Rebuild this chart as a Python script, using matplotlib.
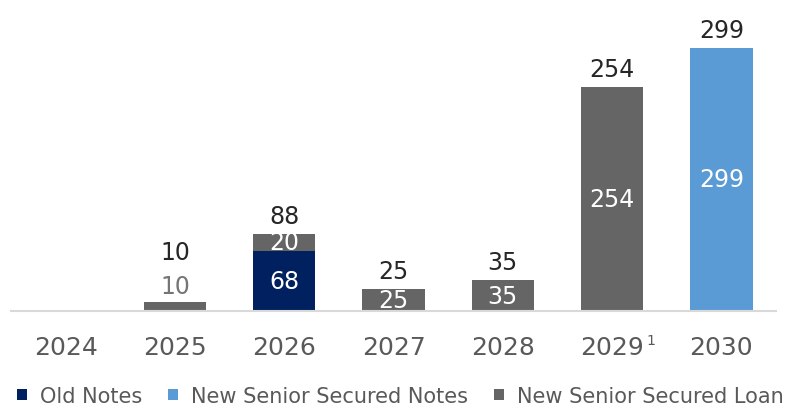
import matplotlib
matplotlib.use("Agg")
import matplotlib.pyplot as plt
import numpy as np
from matplotlib.patches import Patch

years = ["2024", "2025", "2026", "2027", "2028", "2029", "2030"]
old_notes = [0, 0, 68, 0, 0, 0, 0]
new_notes = [0, 0, 0, 0, 0, 0, 299]
new_loan = [0, 10, 20, 25, 35, 254, 0]

series = [
    ("Old Notes", old_notes, "#002060"),
    ("New Senior Secured Notes", new_notes, "#5B9BD5"),
    ("New Senior Secured Loan", new_loan, "#656565"),
]

plt.rcParams["font.family"] = ["DejaVu Sans"]

fig = plt.figure(figsize=(7.87, 4.10), dpi=100)
ax = fig.add_axes([11 / 787, 98 / 410, 765 / 787, 312 / 410])

x = np.arange(len(years))
width = 0.57
bottom = np.zeros(len(years))
px_per_unit = 0.88
for name, vals, color in series:
    vals = np.array(vals, dtype=float)
    ax.bar(x, vals, width, bottom=bottom, color=color, label=name, zorder=2)
    for i, v in enumerate(vals):
        if v <= 0:
            continue
        if v * px_per_unit < 14:
            # segment too thin for a label inside, put it just above in grey
            ax.annotate(f"{v:.0f}", (x[i], bottom[i] + v), xytext=(0, 12),
                        textcoords="offset points", ha="center", va="center",
                        fontsize=17, color="#757575")
        else:
            ax.text(x[i], bottom[i] + v / 2, f"{v:.0f}", ha="center", va="center",
                    fontsize=17, color="white")
    bottom += vals

totals = bottom
for i, t in enumerate(totals):
    if t <= 0:
        continue
    off = 13 if t * px_per_unit >= 14 else 36
    ax.annotate(f"{t:.0f}", (x[i], t), xytext=(0, off), textcoords="offset points",
                ha="center", va="center", fontsize=17, color="#262626")

ax.set_xlim(-0.5, len(years) - 0.5)
ax.set_ylim(0, 312 / px_per_unit)
ax.set_xticks(x)
ax.set_xticklabels(years, fontsize=18, color="#595959")
ax.tick_params(axis="x", length=0, pad=17)
ax.set_yticks([])
for s in ["top", "right", "left"]:
    ax.spines[s].set_visible(False)
ax.spines["bottom"].set_color("#D9D9D9")
ax.spines["bottom"].set_linewidth(1.5)

# footnote marker on 2029
ax.annotate("1", (x[5], 0), xytext=(28, -21), textcoords="offset points",
            ha="center", va="center", fontsize=10, color="#595959")

handles = [Patch(facecolor=c, label=n) for n, _, c in series]
fig.legend(handles=handles, loc="center left", bbox_to_anchor=(0.016, 0.032),
           ncol=3, frameon=False, fontsize=15, handlelength=0.5, handleheight=0.5,
           handletextpad=0.6, columnspacing=1.25, labelcolor="#595959",
           borderpad=0.2, borderaxespad=0)

fig.savefig("out.png", dpi=100)
